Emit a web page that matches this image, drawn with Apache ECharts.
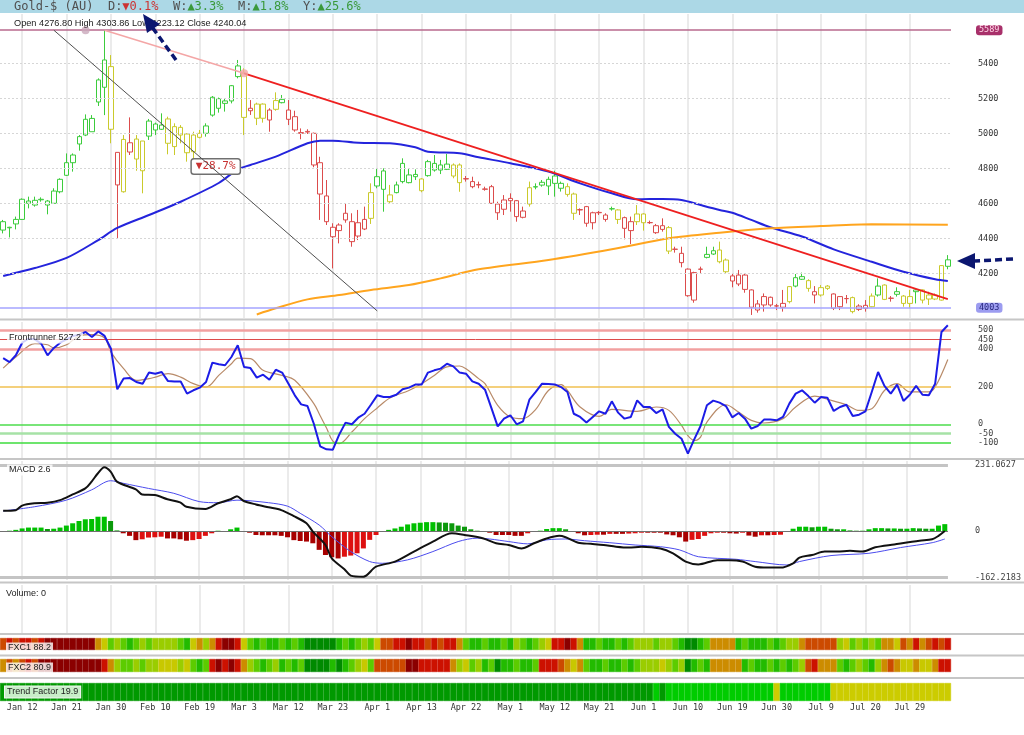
<!DOCTYPE html>
<html><head><meta charset="utf-8">
<script src="https://cdn.jsdelivr.net/npm/echarts@6.0.0/dist/echarts.min.js"></script>
<style>html,body{margin:0;padding:0;background:#fff}#c{width:1024px;height:735px}</style>
</head><body><div id="c"></div>
<script>
// ---------- DATA ----------
const dateLabels = ['Jan 12','Jan 21','Jan 30','Feb 10','Feb 19','Mar 3','Mar 12','Mar 23','Apr 1','Apr 13','Apr 22','May 1','May 12','May 21','Jun 1','Jun 10','Jun 19','Jun 30','Jul 9','Jul 20','Jul 29'];
const labelStart = 3, labelStep = 7;

const openP = [4495,4460,4482,4508,4600,4590,4620,4613,4600,4666, 4760,4832,4939,4990,5009,5179,5419,5381,4891,4666, 4946,4967,4786,4984,5053,5023,5082,4924,5034,4996, 4895,4977,5000,5104,5143,5171,5185,5385,5343,5129, 5167,5086,5076,5137,5194,5133,5095,5004,5011,5000, 4832,4642,4463,4444,4543,4495,4413,4453,4514,4699, 4785,4609,4661,4828,4718,4765,4672,4758,4828,4819, 4794,4756,4819,4741,4724,4707,4682,4695,4596,4566, 4628,4615,4520,4596,4693,4704,4699,4756,4714,4695, 4653,4564,4581,4489,4548,4533,4568,4562,4518,4444, 4495,4539,4490,4472,4451,4461,4338,4314,4224,4047, 4224,4291,4310,4333,4276,4185,4139,4190,4105,3990, 4019,4063,4014,4006,4038,4127,4181,4158,4095,4076, 4127,4082,4009,4056,4061,3994,4017,4009,4076,4133, 4058,4095,4070,4028,4095,4105,4076,4053,4047,4277];
const highP = [4505,4466,4524,4628,4638,4638,4634,4619,4686,4743, 4885,4885,4990,5108,5104,5314,5589,5447,4891,4990, 5091,4990,4956,5082,5061,5114,5095,5057,5047,5000, 5009,5019,5057,5213,5204,5200,5276,5419,5371,5190, 5175,5171,5143,5234,5219,5190,5129,5028,5023,5004, 4866,4733,4486,4486,4600,4543,4562,4581,4714,4800, 4800,4705,4724,4857,4800,4794,4743,4848,4876,4848, 4882,4828,4828,4756,4752,4724,4695,4705,4609,4647, 4657,4619,4581,4724,4714,4733,4752,4786,4724,4714, 4661,4571,4585,4552,4556,4543,4581,4566,4524,4524, 4590,4543,4501,4482,4514,4470,4352,4352,4228,4209, 4238,4352,4352,4381,4285,4196,4219,4196,4108,4047, 4085,4067,4025,4105,4127,4196,4204,4166,4127,4133, 4133,4085,4070,4076,4067,4023,4047,4085,4171,4137, 4070,4120,4076,4105,4114,4108,4095,4085,4247,4304];
const lowP = [4428,4405,4451,4505,4571,4581,4609,4537,4600,4657, 4756,4781,4901,4984,5009,5156,5104,4943,4400,4661, 4876,4786,4657,4962,4990,5019,4880,4876,4943,4838, 4847,4971,4981,5095,5118,5124,5171,5314,4990,5105, 5047,5061,5009,5129,5171,5047,5009,4966,4996,4806, 4505,4476,4228,4371,4489,4352,4390,4447,4482,4686, 4552,4600,4657,4714,4714,4733,4663,4752,4781,4767, 4790,4743,4666,4724,4686,4686,4672,4596,4505,4533, 4552,4495,4514,4581,4680,4695,4647,4638,4667,4638, 4505,4533,4466,4451,4533,4495,4558,4482,4394,4367, 4476,4444,4482,4425,4438,4310,4318,4234,4066,4032, 4200,4285,4305,4257,4200,4120,4127,4089,3962,3975, 3981,4009,3990,3981,4028,4120,4162,4095,4028,4067, 4105,3990,3990,4028,3971,3985,3981,4006,4067,4047, 4038,4067,4009,4000,4028,4028,4019,4047,4044,4223];
const closeP = [4447,4463,4508,4623,4613,4617,4623,4590,4670,4737, 4832,4876,4981,5080,5085,5305,5263,5023,4705,4965, 4893,4853,4956,5070,5019,5047,4943,5038,4990,4889, 4990,5000,5042,5206,5198,5185,5272,5324,5091,5143, 5086,5167,5133,5187,5175,5080,5019,5000,5007,4819, 4653,4495,4409,4476,4505,4381,4489,4508,4661,4752, 4680,4648,4705,4724,4762,4752,4739,4838,4790,4790, 4824,4819,4718,4739,4695,4705,4680,4600,4546,4619, 4615,4524,4556,4689,4695,4720,4737,4714,4686,4651, 4543,4562,4486,4546,4546,4508,4569,4508,4457,4495, 4539,4489,4489,4432,4472,4327,4337,4261,4072,4204, 4223,4308,4329,4266,4209,4156,4190,4108,4006,4025, 4067,4019,4013,4028,4124,4175,4166,4114,4076,4118, 4114,4000,4067,4055,3981,4013,4000,4070,4127,4051, 4057,4080,4028,4067,4105,4047,4053,4076,4244,4240];
// candle trend colour: g=green, y=yellow, r=red
const candleTrend = ['ggggggggggggggggg','yryryy','ggg','yyyyyy','gggggg','yryyryg','rrrrrrrrrrrrr','yggy','gggg','y','gggg','yy','rrrrrrrrrr','y','ggggg','yy','rrrrr','gyrryy','rrr','yrrrrr','gg','yy','rrrrrrrrr','yggyryy','rrr','yrrygyrgyygyyyyg'].join('').split('');

// moving averages: [barIndex, price]
const maBlue = [[0,4185],[5,4230],[10,4288],[15,4390],[18,4459],[23,4533],[28,4609],[34,4716],[37,4794],[39,4819],[43,4867],[48,4943],[50,4958],[52,4958],[56,4946],[61,4943],[65,4920],[67,4895],[72,4886],[75,4863],[80,4829],[86,4781],[91,4714],[96,4657],[100,4623],[104,4625],[107,4619],[110,4590],[113,4562],[115,4546],[118,4505],[121,4463],[126,4410],[131,4337],[137,4266],[142,4209],[147,4166],[149,4156]];
const maOrange = [[40,3965],[43,4000],[48,4051],[53,4076],[58,4105],[64,4133],[69,4171],[75,4223],[86,4276],[96,4337],[105,4400],[113,4432],[121,4457],[129,4470],[137,4480],[149,4478]];
const trendRed = [[38,5343],[149,4053]];
const trendPink = [[16,5589],[38,5343]];
const measureLine = [[8,5589],[59,3985]];
const priceTicks = [4200,4400,4600,4800,5000,5200,5400];
const levelHigh = 5589, levelLow = 4003;

// Frontrunner oscillator
const frBlue = [352,331,367,434,455,452,429,367,406,434, 452,470,477,491,464,494,470,402,186,243, 246,225,216,275,269,278,230,228,228,163, 181,195,225,328,319,314,358,420,305,299, 248,264,237,290,275,216,154,106,97,3, -117,-133,-135,-55,9,0,35,56,104,154, 145,145,157,186,195,211,211,275,287,296, 322,308,275,269,228,216,184,87,-11,30, 48,0,16,131,172,216,214,212,198,172, 56,39,9,39,69,56,122,62,30,39, 127,92,92,60,79,-14,-50,-77,-156,-80, -9,101,126,115,97,37,60,30,-23,-9, 25,25,21,39,110,163,181,150,115,145, 141,71,92,104,44,51,69,172,278,204, 163,211,124,157,204,157,154,216,491,527];
const frBrown = [[0,299],[2,358],[5,429],[7,423],[8,406],[10,423],[12,470],[14,477],[16,459],[17,384],[19,296],[21,234],[23,243],[24,251],[26,269],[28,251],[30,216],[32,198],[34,260],[36,322],[37,352],[39,349],[41,287],[44,260],[46,234],[49,110],[50,45],[51,-20],[52,-90],[53,-103],[55,-41],[57,30],[59,87],[61,140],[64,180],[66,216],[68,260],[70,305],[72,310],[73,296],[75,243],[76,216],[78,101],[80,39],[82,30],[84,79],[86,180],[88,211],[89,180],[91,92],[94,42],[96,79],[100,69],[103,92],[105,74],[107,-6],[108,-60],[109,-86],[110,-68],[111,12],[114,104],[116,65],[118,21],[120,7],[123,30],[125,92],[128,150],[130,133],[133,104],[135,74],[137,83],[139,180],[141,216],[143,172],[146,172],[147,198],[149,345]];
const frLevels = [500,450,400,200,0,-50,-100];

// MACD
const macdHist = [0,1,4,9,12,12,12,7,8,12, 19,27,35,41,42,50,50,35,2,-8, -17,-32,-29,-23,-22,-20,-26,-26,-29,-34, -32,-28,-17,-8,1,0,6,12,0,-6, -14,-15,-15,-15,-17,-22,-32,-35,-37,-43, -66,-84,-92,-96,-90,-86,-78,-61,-31,-14, -2,4,9,15,23,27,29,31,31,30, 29,27,19,15,6,1,0,-6,-14,-14, -14,-17,-17,-8,-2,1,7,10,10,6, -2,-8,-15,-14,-13,-13,-10,-10,-10,-9, -8,-6,-6,-6,-6,-12,-15,-22,-37,-31, -28,-17,-8,-6,-6,-8,-9,-6,-16,-20, -15,-15,-14,-13,0,8,15,15,13,15, 15,8,6,6,2,1,1,6,10,10, 9,9,8,8,10,9,8,8,19,24];
const macdLine = [[0,71],[2,73],[3,89],[5,97],[7,99],[9,108],[11,128],[13,149],[14,173],[15,202],[16,223],[17,208],[18,173],[21,146],[22,128],[24,126],[26,111],[28,100],[29,85],[32,77],[34,97],[36,111],[37,122],[38,106],[40,93],[42,83],[44,73],[46,52],[48,27],[49,-2],[51,-49],[52,-96],[54,-134],[55,-156],[57,-160],[59,-125],[62,-107],[65,-72],[68,-37],[71,-8],[73,-14],[76,-26],[78,-43],[80,-49],[82,-61],[84,-43],[86,-26],[88,-17],[89,-22],[91,-41],[93,-45],[95,-49],[97,-55],[99,-58],[101,-55],[104,-61],[106,-78],[108,-107],[110,-117],[113,-102],[115,-102],[117,-107],[119,-125],[121,-128],[123,-128],[125,-113],[126,-93],[128,-84],[130,-72],[132,-72],[134,-69],[136,-72],[138,-57],[141,-47],[145,-34],[147,-29],[148,-17],[149,0]];
const macdSignal = [[0,70],[5,85],[10,108],[14,144],[17,176],[19,167],[23,149],[27,132],[31,103],[34,99],[37,108],[42,99],[45,87],[47,62],[50,21],[52,-20],[55,-72],[58,-107],[60,-113],[64,-101],[68,-72],[72,-37],[75,-25],[77,-28],[80,-37],[83,-45],[86,-31],[89,-28],[92,-34],[96,-41],[100,-49],[104,-55],[107,-66],[110,-90],[116,-99],[119,-107],[124,-119],[126,-107],[131,-86],[137,-78],[142,-58],[147,-41],[149,-28]];
const macdLevels = [231.0627, 0, -162.2183];

// colour-coded strips (codes into palettes)
const fxc1Codes = ['2121121','00000000','34','65676565','5556','7','4353','1001','4','676776767','88888','7676564','2211011212113','67767767567654','1101','3','776776765','5565567','88','76','3333','7677767655','3','22222','5465656','334','23132121'].join('').split('').map(Number);
const fxc2Codes = ['323212','00000000001','3','5665655','44454','676','10101','3','567657676','888878','76546','22222','00','11111','3546576','8','776776','1112','343','6776776765','554565','8','767','33333','7677676765','21','333','6765675','323','44344','3','11'].join('').split('').map(Number);
const tfCodes = ['0000000000','0000000000','0000000000','0000000000','0000000000','0000000000','0000000000','0000000000','0000000000','0000000000','0001011111','1111111111','1121111111','1222222222','2222222222'].join('').split('').map(Number);

// ---------- STYLE ----------
const MONO = 'DejaVu Sans Mono';
const SANS = 'Liberation Sans';
const fxcPalette = ['#8b0000','#cc1100','#cc4a00','#cc8c00','#c8c800','#9acd00','#5ccc00','#22bb00','#008a00'];
const tfPalette = ['#009900','#00cc00','#cccc00'];
const trendColors = {g:{fill:'#10b810', line:'#3ccc3c'}, y:{fill:'#c6c600', line:'#caca2c'}, r:{fill:'#cc0a0a', line:'#dc4c4c'}};

const N = openP.length;
const cats = openP.map((_, i) => String(i));
const isTick = (i) => i >= labelStart && (i - labelStart) % labelStep === 0;

const gridDefs = [
  {top:14, height:304}, {top:322, height:136}, {top:461, height:119}, {top:585, height:48},
  {top:638, height:12}, {top:659, height:13}, {top:683, height:18}
];
const grid = gridDefs.map(g => ({left:0, width:951, top:g.top, height:g.height, containLabel:false}));

const xAxis = gridDefs.map((g, k) => ({
  type:'category', gridIndex:k, data:cats, boundaryGap:true,
  axisLine:{show:false}, axisTick:{show:false},
  axisLabel: k === 6 ? {show:true, interval:(i) => isTick(i), formatter:(v, i) => dateLabels[(Number(v) - labelStart) / labelStep] || '', fontFamily:MONO, fontSize:8.5, color:'#333', margin:2} : {show:false},
  splitLine:{show:k < 4, interval:(i) => isTick(i), alignWithLabel:true, lineStyle:{color:'#e4e4e4', width:1.5}}
}));

const yLab = (extra) => Object.assign({fontFamily:MONO, fontSize:8.5, color:'#444', margin:27, formatter:(v) => String(v)}, extra || {});
const yAxis = [
  {gridIndex:0, type:'value', position:'right', min:3944.6, max:5681.7, splitLine:{show:false}, axisLine:{show:false}, axisTick:{show:false, customValues:priceTicks}, axisLabel:yLab({customValues:priceTicks, color:'#333'})},
  {gridIndex:1, type:'value', position:'right', min:-179.3, max:544.1, splitLine:{show:false}, axisLine:{show:false}, axisTick:{show:false, customValues:frLevels}, axisLabel:yLab({customValues:frLevels})},
  {gridIndex:2, type:'value', position:'right', min:-171.5, max:245, splitLine:{show:false}, axisLine:{show:false}, axisTick:{show:false, customValues:macdLevels}, axisLabel:yLab({customValues:macdLevels, formatter:(v) => v === 0 ? '0' : Number(v).toFixed(4)})},
  {gridIndex:3, type:'value', min:0, max:1, show:false},
  {gridIndex:4, type:'value', min:0, max:1, show:false},
  {gridIndex:5, type:'value', min:0, max:1, show:false},
  {gridIndex:6, type:'value', min:0, max:1, show:false}
];

function candleStyle(t) {
  const c = trendColors[t] || trendColors.g;
  return {color:'#ffffff', borderColor:c.line, color0:c.fill, borderColor0:c.fill, borderWidth:1};
}
const candleData = openP.map((o, i) => ({value:[o, closeP[i], lowP[i], highP[i]], itemStyle:candleStyle(candleTrend[i])}));

const boxLabel = (txt, bg, fg) => ({show:true, position:'end', formatter:txt, distance:25, backgroundColor:bg, color:fg, padding:[1,3,0,3], borderRadius:3, fontFamily:MONO, fontSize:8.5});

const frLineStyles = {
  '500':{color:'#f2a0a0', width:2.5}, '450':{color:'#dd4a4a', width:1}, '400':{color:'#f2a0a0', width:2.5},
  '200':{color:'#f0c050', width:1.5}, '0':{color:'#4ddc4d', width:1.5}, '-50':{color:'#a6e2a6', width:2.5}, '-100':{color:'#3ddc3d', width:1.5}
};

const histColor = (v, p) => v >= 0 ? (v >= p ? '#00c000' : '#0b990b') : (v <= p ? '#a80000' : '#dd1010');

const series = [
  {
    type:'candlestick', xAxisIndex:0, yAxisIndex:0, barWidth:5, data:candleData, z:3,
    markLine:{
      silent:true, symbol:['none','none'], animation:false,
      data:[
        ...priceTicks.map(v => ({yAxis:v, lineStyle:{color:'#d6d6d6', type:[2,2], width:1}, label:{show:false}})),
        {yAxis:levelHigh, lineStyle:{color:'#b86a8e', width:1.5, type:'solid'}, label:boxLabel(String(levelHigh), '#a8306a', '#ffd6e6')},
        {yAxis:levelLow, lineStyle:{color:'#a4a4ff', width:1.5, type:'solid'}, label:boxLabel(String(levelLow), '#9c9cf0', '#2a2a80')}
      ]
    },
    markPoint:{
      silent:true, animation:false,
      data:[{coord:[34, 4810], symbol:'rect', symbolSize:[1,1], itemStyle:{color:'rgba(0,0,0,0)'},
        label:{show:true, position:'inside', offset:[-3,0], formatter:'▼28.7%', color:'#c83232', fontFamily:MONO, fontSize:11, backgroundColor:'#ffffff', borderColor:'#707070', borderWidth:1.5, padding:[2,4,1,4], borderRadius:2}}]
    }
  },
  {type:'line', xAxisIndex:0, yAxisIndex:0, data:maBlue, smooth:0.3, symbol:'none', lineStyle:{color:'#2424dc', width:2}, z:4},
  {type:'line', xAxisIndex:0, yAxisIndex:0, data:maOrange, smooth:0.3, symbol:'none', lineStyle:{color:'#ffa51e', width:2}, z:4},
  {type:'line', xAxisIndex:0, yAxisIndex:0, data:trendPink, symbol:'none', lineStyle:{color:'#f4a6a6', width:1.5}, z:5},
  {type:'line', xAxisIndex:0, yAxisIndex:0, data:trendRed, symbol:'none', lineStyle:{color:'#ee2020', width:1.8}, z:5},
  {type:'line', xAxisIndex:0, yAxisIndex:0, data:measureLine, symbol:'circle', symbolSize:8, itemStyle:{color:'#a8a8a8'}, lineStyle:{color:'#505050', width:1}, z:6},
  {type:'scatter', xAxisIndex:0, yAxisIndex:0, data:[[13, levelHigh]], symbolSize:8, itemStyle:{color:'#c9a8ba'}, z:6},
  {type:'scatter', xAxisIndex:0, yAxisIndex:0, data:[trendRed[0]], symbolSize:8, itemStyle:{color:'#f2a6a6'}, z:6},

  {type:'line', xAxisIndex:1, yAxisIndex:1, data:frBlue, symbol:'none', lineStyle:{color:'#1c1ce6', width:2}, z:5,
    markLine:{silent:true, symbol:['none','none'], animation:false, label:{show:false},
      data:frLevels.map(v => ({yAxis:v, lineStyle:Object.assign({type:'solid'}, frLineStyles[String(v)])}))}},
  {type:'line', xAxisIndex:1, yAxisIndex:1, data:frBrown, smooth:0.35, symbol:'none', lineStyle:{color:'#b88a68', width:1.2}, z:4},

  {type:'bar', xAxisIndex:2, yAxisIndex:2, barWidth:5, z:3,
    data:macdHist.map((v, i) => ({value:v, itemStyle:{color:histColor(v, i ? macdHist[i-1] : 0)}})),
    markLine:{silent:true, symbol:['none','none'], animation:false, label:{show:false},
      data:[
        {yAxis:macdLevels[0], lineStyle:{color:'#c4c4c4', width:3, type:'solid'}},
        {yAxis:macdLevels[1], lineStyle:{color:'#707070', width:1, type:'solid'}},
        {yAxis:macdLevels[2], lineStyle:{color:'#c4c4c4', width:3, type:'solid'}}
      ]}},
  {type:'line', xAxisIndex:2, yAxisIndex:2, data:macdLine, smooth:0.3, symbol:'none', lineStyle:{color:'#111111', width:2}, z:5},
  {type:'line', xAxisIndex:2, yAxisIndex:2, data:macdSignal, smooth:0.3, symbol:'none', lineStyle:{color:'#4c4cee', width:1}, z:4},

  {type:'bar', xAxisIndex:4, yAxisIndex:4, barCategoryGap:'0%', data:fxc1Codes.map(c => ({value:1, itemStyle:{color:fxcPalette[c], borderColor:fxcPalette[c], borderWidth:0.5}}))},
  {type:'bar', xAxisIndex:5, yAxisIndex:5, barCategoryGap:'0%', data:fxc2Codes.map(c => ({value:1, itemStyle:{color:fxcPalette[c], borderColor:fxcPalette[c], borderWidth:0.5}}))},
  {type:'bar', xAxisIndex:6, yAxisIndex:6, barCategoryGap:'0%', data:tfCodes.map(c => ({value:1, itemStyle:{color:tfPalette[c], borderColor:tfPalette[c], borderWidth:0.5}}))}
];

// ---------- ANNOTATIONS / CHROME ----------
const NAVY = '#0b1670';
const sepLines = [319.5, 459, 582.5, 634, 655.5, 678].map(y => ({type:'line', z:90, shape:{x1:0, y1:y, x2:1024, y2:y}, style:{stroke:'#c6c6c6', lineWidth:2}}));
const panelLabel = (txt, x, y, bg, border) => ({type:'text', z:120, x:x, y:y, style:{text:txt, fontFamily:SANS, fontSize:9, fill:'#222', verticalAlign:'middle', backgroundColor:bg || 'rgba(255,255,255,0.8)', borderColor:border || 'transparent', borderWidth:border ? 1 : 0, padding:[1,2]}});

const graphic = [
  {type:'rect', z:100, shape:{x:0, y:0, width:1024, height:13}, style:{fill:'#acd8e6'}},
  {type:'text', z:110, x:14, y:7, style:{
    text:'{n|Gold-$ (AU)}  {n|D:}{r|▼0.1%}  {n|W:}{g|▲3.3%}  {n|M:}{g|▲1.8%}  {n|Y:}{g|▲25.6%}',
    fontFamily:MONO, fontSize:12, fill:'#555', verticalAlign:'middle',
    rich:{n:{fill:'#505050', fontFamily:MONO, fontSize:12}, r:{fill:'#cc3333', fontFamily:MONO, fontSize:12}, g:{fill:'#3a993a', fontFamily:MONO, fontSize:12}}}},
  {type:'text', z:110, x:14, y:23, style:{text:'Open 4276.80 High 4303.86 Low 4223.12 Close 4240.04', fontFamily:SANS, fontSize:9.2, fill:'#222', verticalAlign:'middle'}},
  ...sepLines,
  panelLabel('Frontrunner 527.2', 7, 338),
  panelLabel('MACD 2.6', 7, 470),
  {type:'text', z:120, x:6, y:594, style:{text:'Volume: 0', fontFamily:SANS, fontSize:9, fill:'#222', verticalAlign:'middle'}},
  panelLabel('FXC1 88.2', 6, 648),
  panelLabel('FXC2 80.9', 6, 668),
  panelLabel('Trend Factor 19.9', 5, 692, '#c8eec8', '#f4f4f4'),
  {type:'line', z:130, shape:{x1:176, y1:60, x2:152, y2:27}, style:{stroke:NAVY, lineWidth:3.5, lineDash:[7,4]}},
  {type:'polygon', z:130, shape:{points:[[143,14],[160,24],[147,33]]}, style:{fill:NAVY}},
  {type:'line', z:130, shape:{x1:1013, y1:259, x2:975, y2:261}, style:{stroke:NAVY, lineWidth:3.5, lineDash:[7,4]}},
  {type:'polygon', z:130, shape:{points:[[957,261],[975,253],[975,269]]}, style:{fill:NAVY}}
];

const chart = echarts.init(document.getElementById('c'), null, {renderer:'canvas'});
chart.setOption({animation:false, backgroundColor:'#ffffff', grid:grid, xAxis:xAxis, yAxis:yAxis, series:series, graphic:graphic});
</script>
</body></html>
